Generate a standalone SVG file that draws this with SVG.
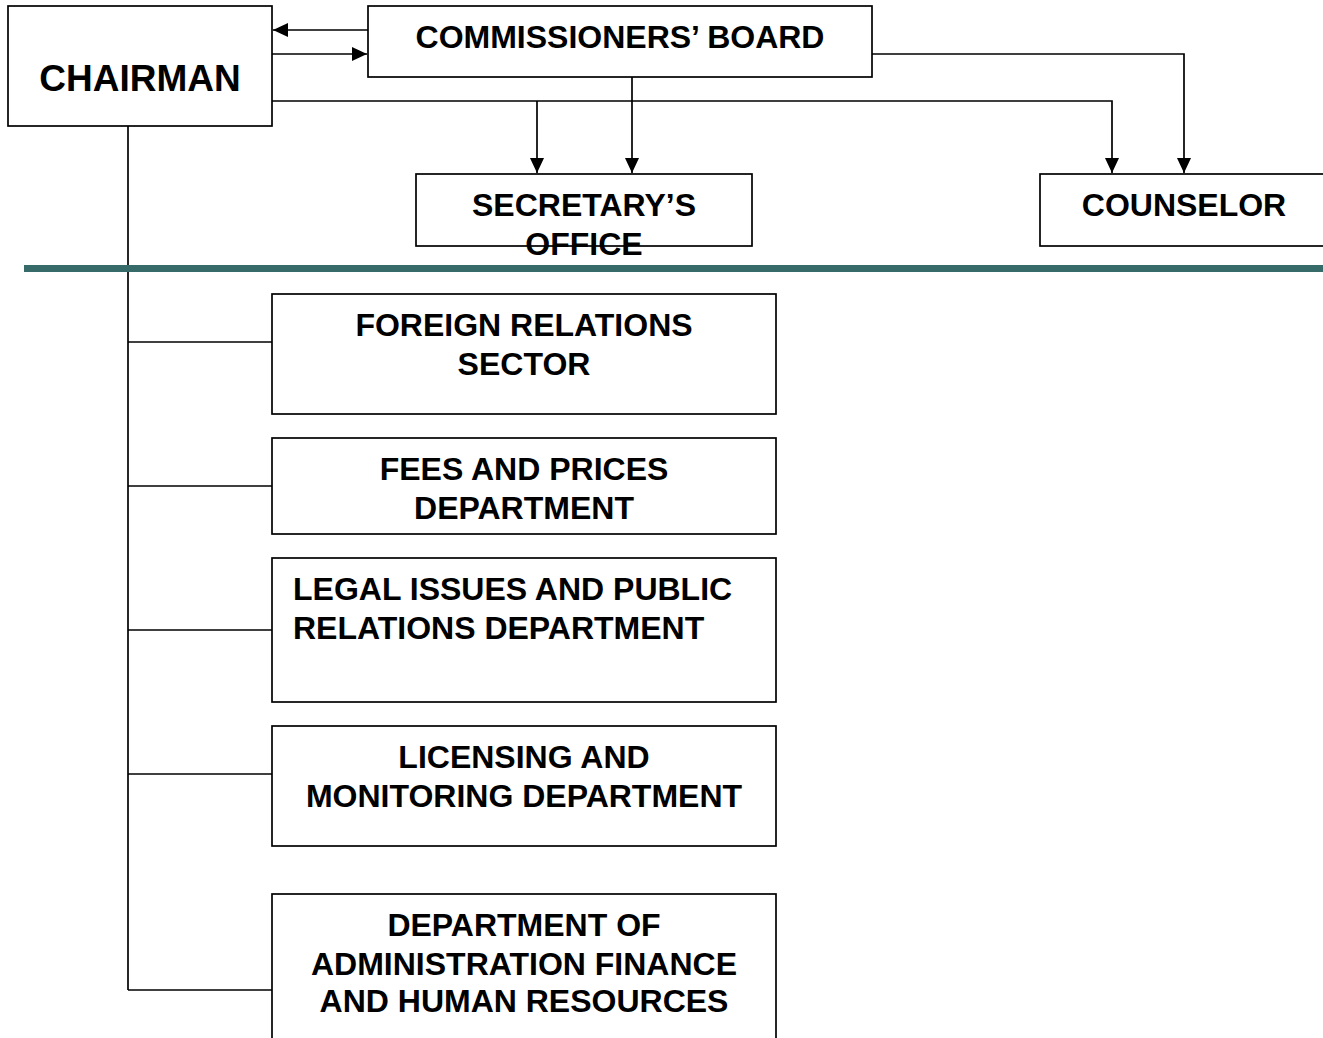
<svg xmlns="http://www.w3.org/2000/svg" width="1323" height="1038" viewBox="0 0 1323 1038">
<style>
.box{fill:#fff;stroke:#000;stroke-width:1.7}
.t{font-family:"Liberation Sans",Arial,sans-serif;font-weight:bold;font-size:32px;fill:#000;text-anchor:middle}
.c{fill:none;stroke:#000;stroke-width:1.7}
</style>
<defs>
<marker id="ah" viewBox="0 0 15 14" refX="15" refY="7" markerWidth="15" markerHeight="14" markerUnits="userSpaceOnUse" orient="auto">
<path d="M0,0 L15,7 L0,14 Z" fill="#000"/>
</marker>
</defs>
<rect x="0" y="0" width="1323" height="1038" fill="#fff"/>
<g id="connectors">
<line class="c" x1="368" y1="30" x2="273" y2="30" marker-end="url(#ah)"/>
<line class="c" x1="272" y1="54" x2="367" y2="54" marker-end="url(#ah)"/>
<polyline class="c" points="272,101 1112,101 1112,173" marker-end="url(#ah)"/>
<line class="c" x1="537" y1="101" x2="537" y2="173" marker-end="url(#ah)"/>
<line class="c" x1="632" y1="77" x2="632" y2="173" marker-end="url(#ah)"/>
<polyline class="c" points="872,54 1184,54 1184,173" marker-end="url(#ah)"/>
<line class="c" x1="128" y1="126" x2="128" y2="990"/>
<line class="c" x1="128" y1="342" x2="272" y2="342"/>
<line class="c" x1="128" y1="486" x2="272" y2="486"/>
<line class="c" x1="128" y1="630" x2="272" y2="630"/>
<line class="c" x1="128" y1="774" x2="272" y2="774"/>
<line class="c" x1="128" y1="990" x2="272" y2="990"/>
</g>
<line id="divider" x1="24" y1="268.5" x2="1323" y2="268.5" stroke="#366B6A" stroke-width="7"/>
<g id="chairman">
<rect class="box" x="8" y="6" width="264" height="120"/>
<text class="t" x="140" y="91" style="font-size:37px">CHAIRMAN</text>
</g>
<g id="board">
<rect class="box" x="368" y="6" width="504" height="71"/>
<text class="t" x="620" y="48">COMMISSIONERS’ BOARD</text>
</g>
<g id="secretary">
<rect class="box" x="416" y="174" width="336" height="72"/>
<text class="t" x="584" y="216">SECRETARY’S</text>
<text class="t" x="584" y="255">OFFICE</text>
</g>
<g id="counselor">
<rect class="box" x="1040" y="174" width="290" height="72"/>
<text class="t" x="1184" y="216">COUNSELOR</text>
</g>
<g id="foreign">
<rect class="box" x="272" y="294" width="504" height="120"/>
<text class="t" x="524" y="336">FOREIGN RELATIONS</text>
<text class="t" x="524" y="375">SECTOR</text>
</g>
<g id="fees">
<rect class="box" x="272" y="438" width="504" height="96"/>
<text class="t" x="524" y="480">FEES AND PRICES</text>
<text class="t" x="524" y="519">DEPARTMENT</text>
</g>
<g id="legal">
<rect class="box" x="272" y="558" width="504" height="144"/>
<text class="t" x="293" y="600" style="text-anchor:start">LEGAL ISSUES AND PUBLIC</text>
<text class="t" x="293" y="639" style="text-anchor:start">RELATIONS DEPARTMENT</text>
</g>
<g id="licensing">
<rect class="box" x="272" y="726" width="504" height="120"/>
<text class="t" x="524" y="768">LICENSING AND</text>
<text class="t" x="524" y="807">MONITORING DEPARTMENT</text>
</g>
<g id="admin">
<rect class="box" x="272" y="894" width="504" height="160"/>
<text class="t" x="524" y="936">DEPARTMENT OF</text>
<text class="t" x="524" y="975">ADMINISTRATION FINANCE</text>
<text class="t" x="524" y="1012">AND HUMAN RESOURCES</text>
</g>
</svg>
